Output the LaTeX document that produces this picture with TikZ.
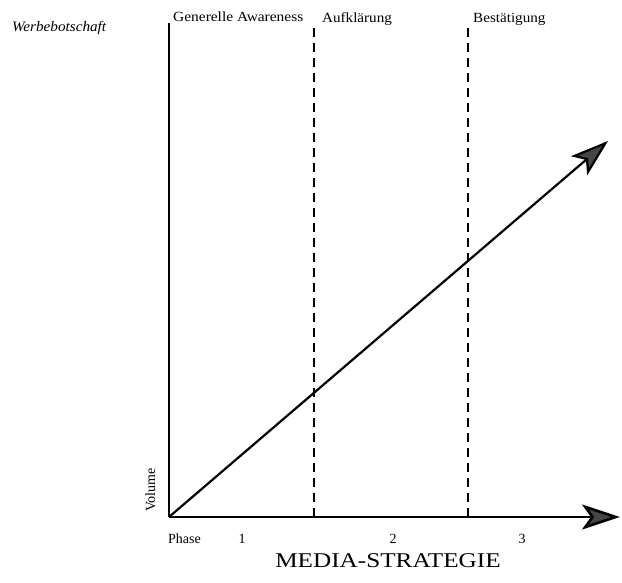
\documentclass[tikz,border=0pt]{standalone}
\usepackage{fontspec}
\setmainfont{Liberation Serif}
\usetikzlibrary{arrows.meta,positioning}

\begin{document}
\begin{tikzpicture}
    [x=1pt,y=-1pt,>={Stealth[length=38pt,width=25pt,inset=9pt,fill=gray!55!black]},
    axis/.style={line width=2.6pt},
    phaseline/.style={line width=1.4pt,dash pattern=on 9pt off 6pt},
    lbl/.style={font=\fontsize{14}{16}\selectfont,inner sep=0pt},
    top/.style={lbl,anchor=base west,xscale=1.08},
    bottom/.style={lbl,anchor=base}]
\useasboundingbox (0,0) rectangle (622,583);
\coordinate (o) at (169,517);
\coordinate (ytop) at (169,23);
\coordinate (xend) at (620,517);
\coordinate (dend) at (608,141);
\coordinate (a) at (314,28);
\coordinate (a') at (314,517);
\coordinate (b) at (468,28);
\coordinate (b') at (468,517);

\node[top,font=\itshape\fontsize{14.5}{16}\selectfont,xscale=0.97](msg) at (12,32){Werbebotschaft};
\node[top,xscale=1.02](gen) at (173,22){Generelle Awareness};
\node[top](auf) at (322,23){Aufklärung};
\node[top](best) at (473,23){Bestätigung};
\node[lbl,rotate=90,anchor=base west](vol) at (155,512){Volume};
\node[lbl,anchor=base west](phase) at (168,543){Phase};
\node[bottom](p1) at (242,543){1};
\node[bottom](p2) at (393,543){2};
\node[bottom](p3) at (522,543){3};
\node[lbl,anchor=base,font=\fontsize{21}{24}\selectfont,xscale=1.2](media) at (388,567){MEDIA-STRATEGIE};

\draw[axis] (ytop) -- (o);
\draw[axis,->] (o) -- (xend);
\draw[line width=2.2pt,->] (o) -- (dend);
\draw[phaseline] (a) -- (a');
\draw[phaseline] (b) -- (b');
\end{tikzpicture}
\end{document}
